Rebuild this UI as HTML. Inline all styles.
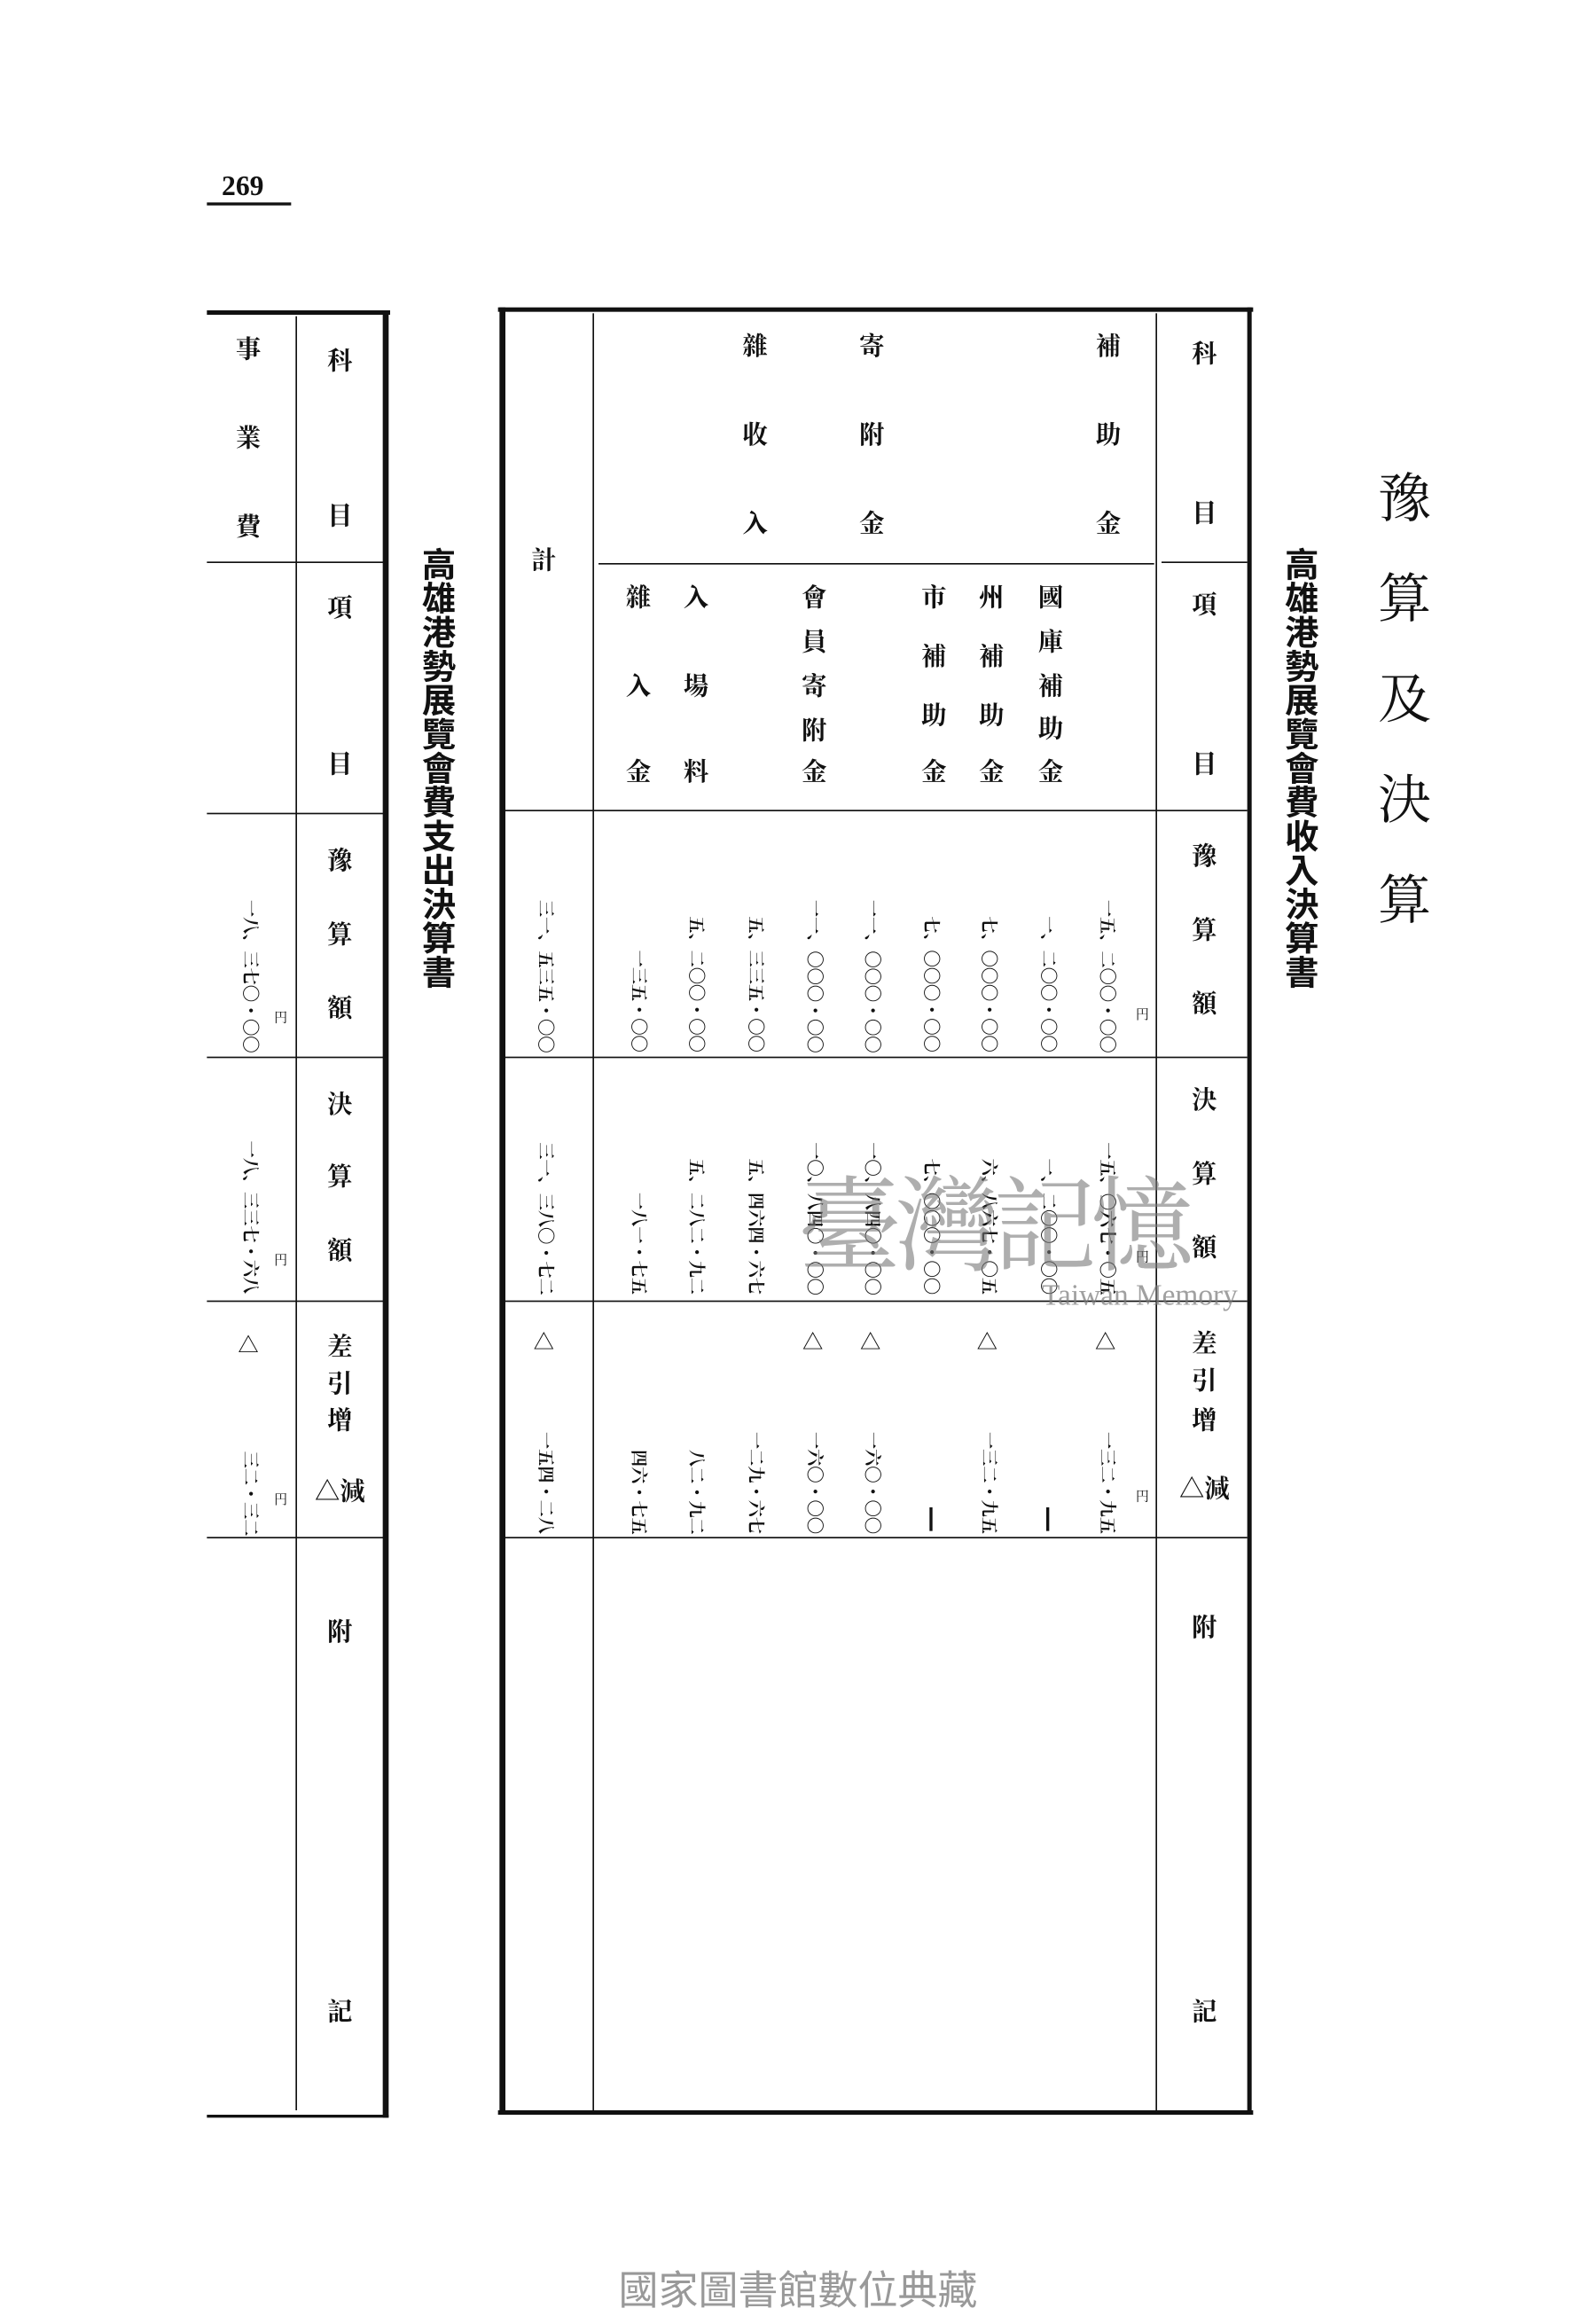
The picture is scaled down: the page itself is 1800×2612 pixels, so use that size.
<!DOCTYPE html>
<html><head><meta charset="utf-8">
<style>
html,body{margin:0;padding:0;background:#fff;}
body{width:1800px;height:2600px;overflow:hidden;position:relative;}
#p{position:absolute;left:0;top:0;width:1080px;height:1560px;transform:scale(1.6666667);transform-origin:0 0;font-family:"Liberation Serif","Noto Serif CJK SC","Noto Sans CJK TC",serif;color:#111;}
.c{position:absolute;width:24px;text-align:center;font-size:17px;line-height:20px;font-weight:bold;transform:translate(-50%,-50%);}
.n{position:absolute;writing-mode:vertical-rl;text-orientation:sideways;font-size:11.5px;line-height:13px;width:13px;transform:translateX(-50%);font-weight:bold;white-space:nowrap;}
.t{position:absolute;width:28px;text-align:center;font-size:23px;line-height:26px;font-weight:bold;font-family:"Noto Sans CJK TC","Noto Sans CJK SC",sans-serif;transform:translateX(-50%);writing-mode:vertical-rl;text-orientation:upright;}
.h{position:absolute;background:#111;}
.y{position:absolute;font-size:9px;transform:translate(-50%,-50%);}
</style></head><body><div id="p">

<div style="position:absolute;left:150px;top:116px;font-size:19px;font-weight:bold;font-family:'Liberation Serif',serif;">269</div>
<div class="h" style="left:140px;top:137px;width:57px;height:1.5px;"></div>

<div class="h" style="left:140px;top:210px;width:124px;height:3px;"></div>
<div class="h" style="left:259px;top:210px;width:4px;height:1223px;"></div>
<div class="h" style="left:200px;top:214px;width:1.3px;height:1214px;"></div>
<div class="h" style="left:140px;top:380px;width:120px;height:1.3px;"></div>
<div class="h" style="left:140px;top:550px;width:120px;height:1.3px;"></div>
<div class="h" style="left:140px;top:715px;width:120px;height:1.3px;"></div>
<div class="h" style="left:140px;top:880px;width:120px;height:1.3px;"></div>
<div class="h" style="left:140px;top:1040px;width:120px;height:1.3px;"></div>
<div class="h" style="left:140px;top:1431px;width:123px;height:2px;"></div>

<div class="c" style="left:230px;top:245px;">科</div>
<div class="c" style="left:230px;top:350px;">目</div>
<div class="c" style="left:230px;top:412px;">項</div>
<div class="c" style="left:230px;top:518px;">目</div>
<div class="c" style="left:230px;top:583px;">豫</div>
<div class="c" style="left:230px;top:633px;">算</div>
<div class="c" style="left:230px;top:683px;">額</div>
<div class="c" style="left:230px;top:748px;">決</div>
<div class="c" style="left:230px;top:797px;">算</div>
<div class="c" style="left:230px;top:847px;">額</div>
<div class="c" style="left:230px;top:912px;">差</div>
<div class="c" style="left:230px;top:937px;">引</div>
<div class="c" style="left:230px;top:962px;">增</div>
<div class="c" style="left:230px;top:1010px;width:34px;">△減</div>
<div class="c" style="left:230px;top:1105px;">附</div>
<div class="c" style="left:230px;top:1362px;">記</div>

<div class="c" style="left:168px;top:237px;">事</div>
<div class="c" style="left:168px;top:297px;">業</div>
<div class="c" style="left:168px;top:357px;">費</div>
<div class="n" style="left:168px;bottom:848px;">一八、三七〇・〇〇</div>
<div class="n" style="left:168px;bottom:685px;">一八、三三七・六八</div>
<div class="c" style="left:168px;top:912px;font-size:14px;">△</div>
<div class="n" style="left:168px;bottom:521px;">三二・三二</div>
<div class="y" style="left:190px;top:688px;">円</div>
<div class="y" style="left:190px;top:852px;">円</div>
<div class="y" style="left:190px;top:1014px;">円</div>

<div class="t" style="left:296px;top:370px;">高雄港勢展覽會費支出決算書</div>

<div class="h" style="left:337px;top:208px;width:511px;height:3px;"></div>
<div class="h" style="left:337px;top:1428px;width:511px;height:3px;"></div>
<div class="h" style="left:338px;top:208px;width:4px;height:1223px;"></div>
<div class="h" style="left:844px;top:208px;width:3px;height:1223px;"></div>
<div class="h" style="left:401px;top:212px;width:1.4px;height:1216px;"></div>
<div class="h" style="left:782px;top:212px;width:1.4px;height:1216px;"></div>
<div class="h" style="left:405px;top:381px;width:376px;height:1.3px;"></div>
<div class="h" style="left:786px;top:380px;width:58px;height:1.3px;"></div>
<div class="h" style="left:342px;top:548px;width:502px;height:1.3px;"></div>
<div class="h" style="left:342px;top:715px;width:502px;height:1.3px;"></div>
<div class="h" style="left:342px;top:880px;width:502px;height:1.3px;"></div>
<div class="h" style="left:342px;top:1040px;width:502px;height:1.3px;"></div>

<div class="c" style="left:815px;top:240px;">科</div>
<div class="c" style="left:815px;top:348px;">目</div>
<div class="c" style="left:815px;top:410px;">項</div>
<div class="c" style="left:815px;top:518px;">目</div>
<div class="c" style="left:815px;top:580px;">豫</div>
<div class="c" style="left:815px;top:630px;">算</div>
<div class="c" style="left:815px;top:680px;">額</div>
<div class="c" style="left:815px;top:745px;">決</div>
<div class="c" style="left:815px;top:795px;">算</div>
<div class="c" style="left:815px;top:845px;">額</div>
<div class="c" style="left:815px;top:910px;">差</div>
<div class="c" style="left:815px;top:935px;">引</div>
<div class="c" style="left:815px;top:962px;">增</div>
<div class="c" style="left:815px;top:1008px;width:34px;">△減</div>
<div class="c" style="left:815px;top:1102px;">附</div>
<div class="c" style="left:815px;top:1362px;">記</div>

<div class="c" style="left:368px;top:380px;">計</div>

<div class="c" style="left:750px;top:235px;">補</div>
<div class="c" style="left:750px;top:295px;">助</div>
<div class="c" style="left:750px;top:355px;">金</div>
<div class="c" style="left:590px;top:235px;">寄</div>
<div class="c" style="left:590px;top:295px;">附</div>
<div class="c" style="left:590px;top:355px;">金</div>
<div class="c" style="left:511px;top:235px;">雜</div>
<div class="c" style="left:511px;top:295px;">收</div>
<div class="c" style="left:511px;top:355px;">入</div>

<div class="c" style="left:711px;top:405px;">國</div>
<div class="c" style="left:711px;top:435px;">庫</div>
<div class="c" style="left:711px;top:465px;">補</div>
<div class="c" style="left:711px;top:494px;">助</div>
<div class="c" style="left:711px;top:523px;">金</div>
<div class="c" style="left:671px;top:405px;">州</div>
<div class="c" style="left:671px;top:445px;">補</div>
<div class="c" style="left:671px;top:485px;">助</div>
<div class="c" style="left:671px;top:523px;">金</div>
<div class="c" style="left:632px;top:405px;">市</div>
<div class="c" style="left:632px;top:445px;">補</div>
<div class="c" style="left:632px;top:485px;">助</div>
<div class="c" style="left:632px;top:523px;">金</div>
<div class="c" style="left:551px;top:405px;">會</div>
<div class="c" style="left:551px;top:435px;">員</div>
<div class="c" style="left:551px;top:465px;">寄</div>
<div class="c" style="left:551px;top:495px;">附</div>
<div class="c" style="left:551px;top:523px;">金</div>
<div class="c" style="left:471px;top:405px;">入</div>
<div class="c" style="left:471px;top:465px;">場</div>
<div class="c" style="left:471px;top:523px;">料</div>
<div class="c" style="left:432px;top:405px;">雜</div>
<div class="c" style="left:432px;top:465px;">入</div>
<div class="c" style="left:432px;top:523px;">金</div>

<div class="n" style="left:368px;bottom:848px;">三一、五三五・〇〇</div>
<div class="n" style="left:431px;bottom:848px;">一三五・〇〇</div>
<div class="n" style="left:470px;bottom:848px;">五、二〇〇・〇〇</div>
<div class="n" style="left:510px;bottom:848px;">五、三三五・〇〇</div>
<div class="n" style="left:550px;bottom:848px;">一一、〇〇〇・〇〇</div>
<div class="n" style="left:589px;bottom:848px;">一一、〇〇〇・〇〇</div>
<div class="n" style="left:629px;bottom:848px;">七、〇〇〇・〇〇</div>
<div class="n" style="left:668px;bottom:848px;">七、〇〇〇・〇〇</div>
<div class="n" style="left:708px;bottom:848px;">一、二〇〇・〇〇</div>
<div class="n" style="left:748px;bottom:848px;">一五、二〇〇・〇〇</div>
<div class="y" style="left:773px;top:686px;">円</div>

<div class="n" style="left:368px;bottom:684px;">三一、三八〇・七二</div>
<div class="n" style="left:431px;bottom:684px;">一八一・七五</div>
<div class="n" style="left:470px;bottom:684px;">五、二八二・九二</div>
<div class="n" style="left:510px;bottom:684px;">五、四六四・六七</div>
<div class="n" style="left:550px;bottom:684px;">一〇、八四〇・〇〇</div>
<div class="n" style="left:589px;bottom:684px;">一〇、八四〇・〇〇</div>
<div class="n" style="left:629px;bottom:684px;">七、〇〇〇・〇〇</div>
<div class="n" style="left:668px;bottom:684px;">六、八六七・〇五</div>
<div class="n" style="left:708px;bottom:684px;">一、二〇〇・〇〇</div>
<div class="n" style="left:748px;bottom:684px;">一五、〇六七・〇五</div>
<div class="y" style="left:773px;top:850px;">円</div>

<div class="c" style="left:368px;top:910px;font-size:14px;">△</div>
<div class="c" style="left:550px;top:910px;font-size:14px;">△</div>
<div class="c" style="left:589px;top:910px;font-size:14px;">△</div>
<div class="c" style="left:668px;top:910px;font-size:14px;">△</div>
<div class="c" style="left:748px;top:910px;font-size:14px;">△</div>
<div class="n" style="left:368px;bottom:522px;">一五四・二八</div>
<div class="n" style="left:431px;bottom:522px;">四六・七五</div>
<div class="n" style="left:470px;bottom:522px;">八二・九二</div>
<div class="n" style="left:510px;bottom:522px;">一二九・六七</div>
<div class="n" style="left:550px;bottom:522px;">一六〇・〇〇</div>
<div class="n" style="left:589px;bottom:522px;">一六〇・〇〇</div>
<div class="h" style="left:629px;top:1020px;width:1.5px;height:16px;"></div>
<div class="n" style="left:668px;bottom:522px;">一三二・九五</div>
<div class="h" style="left:708px;top:1020px;width:1.5px;height:16px;"></div>
<div class="n" style="left:748px;bottom:522px;">一三二・九五</div>
<div class="y" style="left:773px;top:1012px;">円</div>

<div class="t" style="left:880px;top:370px;">高雄港勢展覽會費收入決算書</div>
<div style="position:absolute;left:950px;top:318px;width:44px;transform:translateX(-50%);writing-mode:vertical-rl;text-orientation:upright;font-size:36px;line-height:44px;letter-spacing:32px;font-family:'Noto Serif CJK SC','Noto Sans CJK TC',serif;">豫算及決算</div>

<div style="position:absolute;left:540px;top:785px;font-size:70px;line-height:80px;color:rgba(120,120,120,0.6);font-family:'Noto Serif CJK SC',serif;letter-spacing:-4px;white-space:nowrap;">臺灣記憶</div>
<div style="position:absolute;left:705px;top:866px;font-size:20px;color:rgba(120,120,120,0.7);font-family:'Liberation Serif',serif;white-space:nowrap;">Taiwan Memory</div>

<div style="position:absolute;left:540px;top:1528px;transform:translateX(-50%);font-size:27px;color:#999;font-family:'Noto Sans CJK TC','Noto Sans CJK SC',sans-serif;white-space:nowrap;">國家圖書館數位典藏</div>

</div></body></html>
